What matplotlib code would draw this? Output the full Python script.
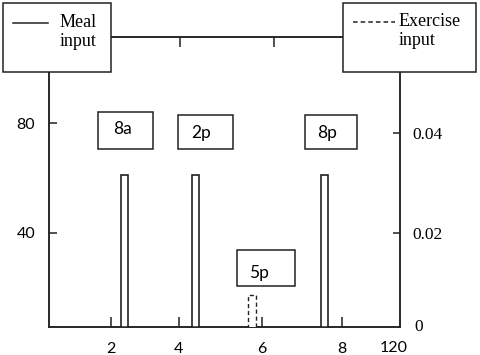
import matplotlib
matplotlib.use("Agg")
import matplotlib.pyplot as plt
from matplotlib.patches import Rectangle
from matplotlib.lines import Line2D

# meal / exercise inputs (x in plot units, left axis for meals, right axis for exercise)
meal_x = [2.35, 4.19, 7.545]
meal_height = [61, 61, 61]
meal_labels = ["8a", "2p", "8p"]
exercise_x = [5.66]
exercise_height = [0.0076]
exercise_labels = ["5p"]

# label boxes: (x0, x1, y0, y1) in left-axis data units, text position
meal_label_boxes = [(1.66, 3.10, 70.5, 84.0), (3.74, 5.17, 70.5, 82.9), (7.04, 8.40, 70.5, 82.9)]
meal_label_text = [(2.29, 77.7), (4.33, 76.2), (7.62, 76.2)]
exercise_label_boxes = [(5.27, 6.78, 20.7, 33.8)]
exercise_label_text = [(5.85, 25.4)]

xtick_pos = [2.0, 3.766, 5.922, 8.0]
xtick_labels = ["2", "4", "6", "8"]
top_tick_pos = [3.79, 6.23]
left_ticks = [40, 80]
right_ticks = [0.02, 0.04]
right_tick_labels = ["0.02", "0.04"]

SANS = "Lato"
SERIF = "Liberation Serif"
EDGE = "#222222"

fig = plt.figure(figsize=(4.8, 3.55), dpi=100)
ax = fig.add_axes([49 / 480, 28 / 355, 351 / 480, 290 / 355])
ax2 = ax.twinx()

ax.set_xlim(0.39, 9.51)
ax.set_ylim(5.8, 111.3)
ax2.set_ylim(0.0012, 0.0592)

ax.bar(meal_x, meal_height, width=0.18, color="white", edgecolor=EDGE, linewidth=1.2, zorder=3)
ax2.bar(exercise_x, exercise_height, width=0.21, color="white", edgecolor=EDGE,
        linewidth=1.0, linestyle=(0, (3, 2)), zorder=3)

for (x0, x1, y0, y1), (tx, ty), lab in zip(meal_label_boxes + exercise_label_boxes,
                                           meal_label_text + exercise_label_text,
                                           meal_labels + exercise_labels):
    ax.add_patch(Rectangle((x0, y0), x1 - x0, y1 - y0, facecolor="white",
                           edgecolor=EDGE, linewidth=1.1, zorder=4))
    ax.text(tx, ty, lab, fontfamily=SANS, fontsize=12.5, ha="center", va="center", zorder=5)

for a in (ax, ax2):
    for s in a.spines.values():
        s.set_linewidth(1.1)
        s.set_color(EDGE)

ax.set_xticks(xtick_pos)
ax.set_xticklabels(xtick_labels, fontfamily=SANS, fontsize=11.5)
ax.set_yticks(left_ticks)
ax.set_yticklabels([str(v) for v in left_ticks], fontfamily=SANS, fontsize=11.5)
ax.tick_params(axis="x", direction="in", length=7, width=1.1, color=EDGE, pad=11)
ax.tick_params(axis="y", direction="in", length=6, width=1.1, color=EDGE, pad=10)
ax.text(9.35, -0.074, "120", transform=ax.get_xaxis_transform(), fontfamily=SANS,
        fontsize=11.5, ha="center", va="center")

ax2.set_yticks(right_ticks)
ax2.set_yticklabels(right_tick_labels, fontfamily=SERIF, fontsize=12.5)
ax2.tick_params(axis="y", direction="in", length=5, width=1.1, color=EDGE, pad=9)
ax2.text(1.04, 0.0012, "0", transform=ax2.get_yaxis_transform(), fontfamily=SERIF,
         fontsize=12.5, ha="left", va="center")

top = ax.secondary_xaxis("top")
top.set_xticks(top_tick_pos)
top.set_xticklabels(["", ""])
top.tick_params(direction="in", length=7, width=1.1, color=EDGE)
top.spines["top"].set_visible(False)


def px_rect(x0, y0, x1, y1):
    return Rectangle((x0 / 480, 1 - y1 / 355), (x1 - x0) / 480, (y1 - y0) / 355,
                     transform=fig.transFigure, facecolor="white", edgecolor=EDGE,
                     linewidth=1.1, zorder=10)


# legend boxes over the top corners
fig.add_artist(px_rect(3, 3, 111, 72))
fig.add_artist(Line2D([13 / 480, 48 / 480], [1 - 23 / 355, 1 - 23 / 355],
                      transform=fig.transFigure, color=EDGE, linewidth=1.1, zorder=11))
fig.text(60 / 480, 1 - 32 / 355, "Meal\ninput", fontfamily=SERIF, fontsize=13,
         ha="left", va="center", zorder=11, linespacing=1.1)

fig.add_artist(px_rect(343, 3, 476, 72))
fig.add_artist(Line2D([353 / 480, 395 / 480], [1 - 22 / 355, 1 - 22 / 355],
                      transform=fig.transFigure, color=EDGE, linewidth=1.1,
                      linestyle=(0, (3, 2)), zorder=11))
fig.text(399 / 480, 1 - 31 / 355, "Exercise\ninput", fontfamily=SERIF, fontsize=13,
         ha="left", va="center", zorder=11, linespacing=1.1)

fig.savefig("out.png", dpi=100)
